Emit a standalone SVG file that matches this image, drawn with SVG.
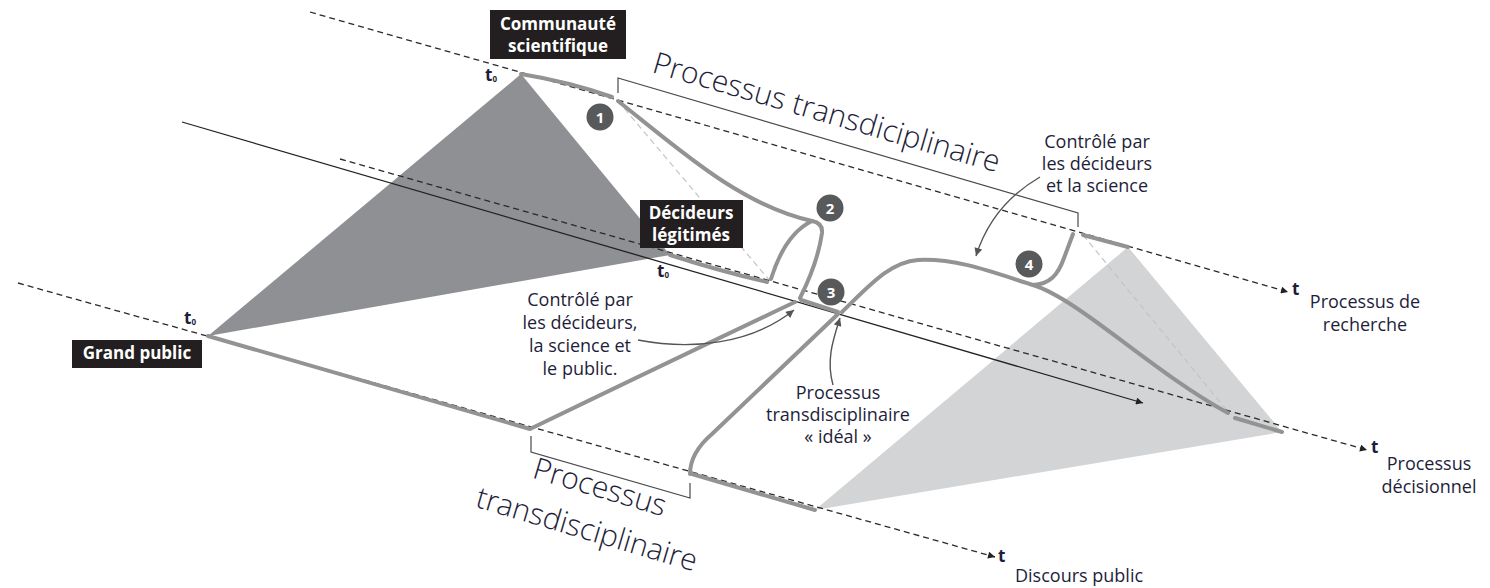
<svg xmlns="http://www.w3.org/2000/svg" width="1490" height="588" viewBox="0 0 1490 588">
<style>
.ax{fill:none;stroke:#2a2a2a;stroke-width:1.3;stroke-dasharray:6 4}
.sl{fill:none;stroke:#222;stroke-width:1.3}
.lt{fill:none;stroke:#c4c4c4;stroke-width:1.2;stroke-dasharray:6 4}
.gr{fill:none;stroke:#939393;stroke-width:4;stroke-linecap:round;stroke-linejoin:round}
.br{fill:none;stroke:#4a4a4a;stroke-width:1.2}
.an{fill:none;stroke:#555;stroke-width:1.4}
.lbl{font-family:"Open Sans","Liberation Sans",sans-serif;font-size:18px;fill:#1e1e3a}
.big{font-family:"Open Sans","Liberation Sans",sans-serif;font-size:30px;font-weight:300;fill:#1e1e3a}
.tl{font-family:"Open Sans","Liberation Sans",sans-serif;font-size:17px;font-weight:700;fill:#1e1e3a}
.box{fill:#231f20}
.bt{font-family:"Open Sans","Liberation Sans",sans-serif;font-size:17px;font-weight:700;fill:#fff}
.nc{fill:#58595b}
.nt{font-family:"Open Sans","Liberation Sans",sans-serif;font-size:15px;font-weight:700;fill:#fff}
</style>
<defs>
<marker id="ah" viewBox="0 0 10 10" refX="10" refY="5" markerWidth="10" markerHeight="7" orient="auto" markerUnits="userSpaceOnUse"><path d="M0,0 L10,5 L0,10 z" fill="#222"/></marker>
<marker id="ag" viewBox="0 0 10 10" refX="10" refY="5" markerWidth="10" markerHeight="8" orient="auto" markerUnits="userSpaceOnUse"><path d="M0,0 L10,5 L0,10 z" fill="#555"/></marker>
</defs>

<g id="areas">
<polygon points="521,74 208,336 670,255" fill="#8f9094"/>
<polygon points="1128,247 1282,432 815,510" fill="#d3d4d6"/>
</g>

<g id="connectors">
<path class="lt" d="M618,101 L770,281"/>
<path class="lt" d="M1083,235 L1229,413"/>
<path class="ax" d="M310,12 L1288,292" marker-end="url(#ah)"/>
<path class="ax" d="M340,159 L1367,450" marker-end="url(#ah)"/>
<path class="ax" d="M18,283 L995,557" marker-end="url(#ah)"/>
<path class="sl" d="M182,122 L1143,403" marker-end="url(#ah)"/>

<path class="gr" d="M521,74 Q570,82 612,97"/>
<path class="gr" d="M618,101 C680,150 740,205 812,221 Q823,223 822,233 Q818,262 800,298"/>
<path class="gr" d="M812,221 Q785,234 771,279"/>
<path class="gr" d="M670,255 Q720,271 767,282"/>
<path class="gr" d="M208,336 L530,429 Q660,366 795,302"/>
<path class="gr" d="M801,300 L838,312"/>
<path class="gr" d="M690,474 C690,458 698,446 712,434 L838,314"/>
<path class="gr" d="M842,312 C870,285 890,262 918,260 C960,258 1000,275 1033,285 C1080,300 1150,370 1228,413"/>
<path class="gr" d="M1033,285 C1050,284 1058,275 1064,258 L1073,234"/>
<path class="gr" d="M1083,235 L1128,247"/>
<path class="gr" d="M1235,418 L1282,432"/>
<path class="gr" d="M692,474 L815,510"/>

<path class="br" d="M618,93 L618,78 L1078,213 L1078,227"/>
<path class="br" d="M531,436 L531,452 L690,498 L690,483"/>

<path class="an" d="M1040,177 Q992,205 976,256" marker-end="url(#ag)"/>
<path class="an" d="M638,340 C690,350 750,345 794,310" marker-end="url(#ag)"/>
<path class="an" d="M833,385 C826,360 833,340 840,318" marker-end="url(#ag)"/>
</g>

<g id="node-communaute">
<rect class="box" x="490" y="10" width="136" height="49"/>
<text class="bt" x="558" y="30" text-anchor="middle">Communauté</text>
<text class="bt" x="558" y="52" text-anchor="middle">scientifique</text>
</g>

<g id="node-decideurs">
<rect class="box" x="640" y="200" width="103" height="48"/>
<text class="bt" x="691" y="219" text-anchor="middle">Décideurs</text>
<text class="bt" x="691" y="241" text-anchor="middle">légitimés</text>
</g>

<g id="node-public">
<rect class="box" x="72" y="340" width="130" height="28"/>
<text class="bt" x="137" y="359" text-anchor="middle">Grand public</text>
</g>

<g id="node-1"><circle class="nc" cx="600" cy="117" r="13.5"/><text class="nt" x="600" y="122.5" text-anchor="middle">1</text></g>
<g id="node-2"><circle class="nc" cx="830" cy="208" r="13.5"/><text class="nt" x="830" y="213.5" text-anchor="middle">2</text></g>
<g id="node-3"><circle class="nc" cx="831" cy="292" r="13.5"/><text class="nt" x="831" y="297.5" text-anchor="middle">3</text></g>
<g id="node-4"><circle class="nc" cx="1029" cy="264" r="13.5"/><text class="nt" x="1029" y="269.5" text-anchor="middle">4</text></g>

<g id="labels-t">
<text class="tl" x="485" y="81">t<tspan font-size="8" dy="1">0</tspan></text>
<text class="tl" x="657" y="277">t<tspan font-size="8" dy="1">0</tspan></text>
<text class="tl" x="184" y="324">t<tspan font-size="8" dy="1">0</tspan></text>
<text class="tl" x="1292" y="295">t</text>
<text class="tl" x="1371" y="453">t</text>
<text class="tl" x="998" y="562">t</text>
</g>

<g id="labels">
<text class="lbl" x="1365" y="308" text-anchor="middle">Processus de</text>
<text class="lbl" x="1365" y="331" text-anchor="middle">recherche</text>
<text class="lbl" x="1429" y="470" text-anchor="middle">Processus</text>
<text class="lbl" x="1429" y="493" text-anchor="middle">décisionnel</text>
<text class="lbl" x="1015" y="582">Discours public</text>
<text class="lbl" x="1097" y="148" text-anchor="middle">Contrôlé par</text>
<text class="lbl" x="1097" y="170" text-anchor="middle">les décideurs</text>
<text class="lbl" x="1097" y="192" text-anchor="middle">et la science</text>
<text class="lbl" x="580" y="306" text-anchor="middle">Contrôlé par</text>
<text class="lbl" x="580" y="329" text-anchor="middle">les décideurs,</text>
<text class="lbl" x="580" y="352" text-anchor="middle">la science et</text>
<text class="lbl" x="580" y="375" text-anchor="middle">le public.</text>
<text class="lbl" x="838" y="399" text-anchor="middle">Processus</text>
<text class="lbl" x="838" y="421" text-anchor="middle">transdisciplinaire</text>
<text class="lbl" x="838" y="443" text-anchor="middle">« idéal »</text>
<text class="big" x="651" y="72" transform="rotate(16.2 651 72)">Processus transdiciplinaire</text>
<text class="big" x="597" y="497" text-anchor="middle" transform="rotate(16.5 597 497)">Processus</text>
<text class="big" x="584" y="539" text-anchor="middle" transform="rotate(16.5 584 539)">transdisciplinaire</text>
</g>
</svg>
